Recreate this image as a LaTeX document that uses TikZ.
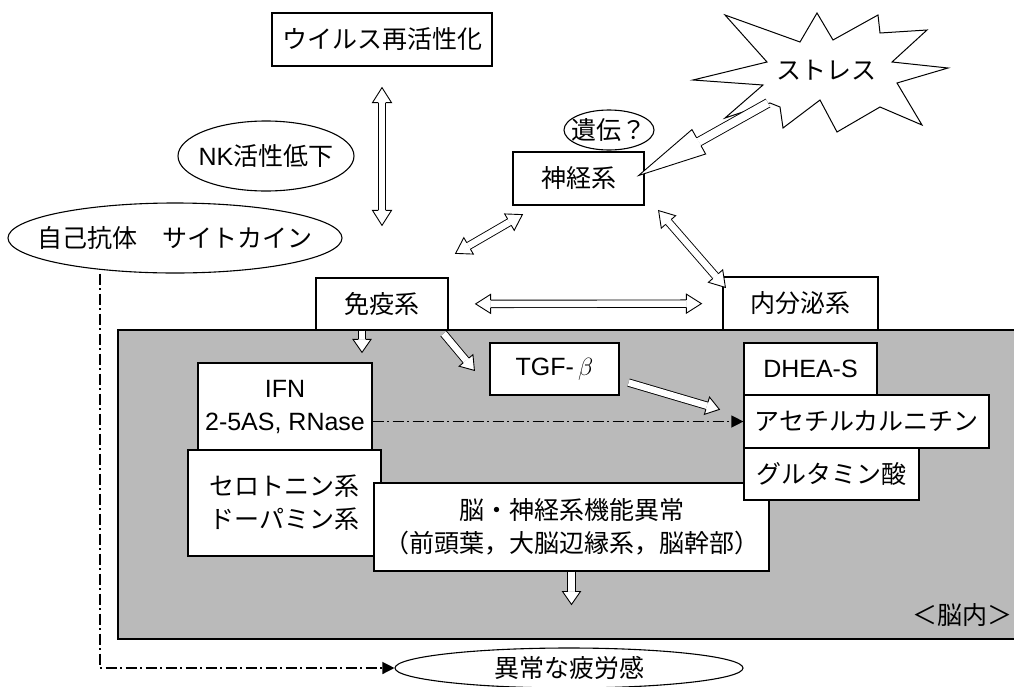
\documentclass[tikz,border=0pt]{standalone}
\usepackage{fontspec}
\setmainfont{Liberation Sans}
\newfontfamily\jp{Noto Sans CJK JP}
\usetikzlibrary{arrows.meta,shapes.geometric,calc}
\pgfdeclarearrow{
  name = Hol,
  parameters = {\the\pgfarrowlength,\the\pgfarrowwidth,\the\pgfarrowinset},
  setup code = {
    \pgfarrowssettipend{0pt}
    \pgfarrowssetlineend{-\pgfarrowlength}
    \pgfarrowssetbackend{-\pgfarrowlength}
    \pgfarrowssavethe\pgfarrowlength
    \pgfarrowssavethe\pgfarrowwidth
    \pgfarrowssavethe\pgfarrowinset
  },
  drawing code = {
    \pgfsetlinewidth{0.9pt}
    \pgfsetmiterjoin
    \pgfpathmoveto{\pgfpoint{-\pgfarrowlength}{0.5\pgfarrowwidth}}
    \pgfpathlineto{\pgfpointorigin}
    \pgfpathlineto{\pgfpoint{-\pgfarrowlength}{-0.5\pgfarrowwidth}}
    \pgfpathclose
    \pgfsetfillcolor{white}
    \pgfusepathqfill
    \pgfpathmoveto{\pgfpoint{-\pgfarrowlength}{\pgfarrowinset}}
    \pgfpathlineto{\pgfpoint{-\pgfarrowlength}{0.5\pgfarrowwidth}}
    \pgfpathlineto{\pgfpointorigin}
    \pgfpathlineto{\pgfpoint{-\pgfarrowlength}{-0.5\pgfarrowwidth}}
    \pgfpathlineto{\pgfpoint{-\pgfarrowlength}{-\pgfarrowinset}}
    \pgfusepathqstroke
  },
  defaults = {length=15pt, width=19pt, inset=3.7pt}
}
\tikzset{
  hollowtip/.tip={Hol[length=15pt,width=19pt,inset=3.7pt]},
  smalltip/.tip={Hol[length=13pt,width=18pt,inset=3.7pt]},
  bigtip/.tip={Hol[length=69pt,width=28pt,inset=4.45pt]},
  ddtip/.tip={Triangle[length=12pt,width=12pt]},
}
\begin{document}
\begin{tikzpicture}[x=1pt,y=-1pt,
  every node/.style={font=\fontsize{25}{33}\selectfont, inner sep=0pt},
  jp/.style={font=\jp\fontsize{25}{33}\selectfont},
  box/.style={draw, fill=white, line width=1.2pt, align=center},
  ell/.style={ellipse, draw, fill=white, line width=1.1pt},
  hol2/.style={double=white, double distance=6.5pt, line width=0.9pt, hollowtip-hollowtip},
  hols/.style={double=white, double distance=6.5pt, line width=0.9pt, -smalltip},
  bigarrow/.style={double=white, double distance=8pt, line width=0.9pt, -bigtip},
  dd/.style={line width=1.3pt, dash pattern=on 11pt off 3.5pt on 2pt off 3.5pt, -ddtip},
]
\useasboundingbox (0,0) rectangle (1014,686);

% brain region
\fill[black!27] (118,330) rectangle (1020,639);
\draw[line width=1.2pt] (1020,330) -- (118,330) -- (118,639) -- (1020,639);
\node[jp, anchor=east] (nainai) at (1013,615) {＜脳内＞};

% top nodes
\node[box, jp, minimum width=220, minimum height=53] (virus) at (382,39.5) {ウイルス再活性化};
\node[box, jp, minimum width=132, minimum height=52] (immune) at (382,304) {免疫系};
\node[box, jp, minimum width=131, minimum height=53] (nerve) at (578.5,178.5) {神経系};
\node[box, jp, minimum width=155, minimum height=53] (endo) at (800.5,303.5) {内分泌系};

\node[ell, minimum width=176, minimum height=70] (nk) at (266,156) {\makebox[0pt]{NK{\jp 活性低下}}};
\node[ell, jp, minimum width=334, minimum height=70] (auto) at (175,238) {\makebox[0pt]{自己抗体　サイトカイン}};
\node[ell, jp, minimum width=90, minimum height=40] (iden) at (609,130) {\makebox[0pt]{遺伝？}};

% stress star
\draw[fill=white, line width=1pt] (725,15) -- (800,42) -- (817,13) -- (833,40) -- (878,15) -- (880,33) -- (927,30) -- (892,62) -- (948,68) -- (897,83) -- (922,125) -- (880,107) -- (837,132) -- (820,100) -- (783,128) -- (780,107) -- (770,103) -- (725,118) -- (763,85) -- (693,80) -- (767,62) -- cycle;
\node[jp] (stress) at (826,70) {ストレス};
\coordinate (stresstail) at (768,103);
\draw[bigarrow] (stresstail) -- ([shift={(-6,-3)}]nerve.east);

% double arrows
\draw[hol2, shorten <=21pt, shorten >=52pt] (virus) -- (immune);
\draw[hol2] ([shift={(7,-24)}]immune.north east) -- ([shift={(10,9)}]nerve.south west);
\draw[hol2] ([shift={(14,5)}]nerve.south east) -- ([shift={(3,11)}]endo.north west);
\draw[hol2, shorten <=27pt, shorten >=21pt] (immune) -- (endo);

% inside brain region
\node[box, minimum width=174, minimum height=87] (ifn) at (285,406.5) {IFN\\2-5AS, RNase};
\node[box, jp, minimum width=193, minimum height=106] (sero) at (284.5,503) {セロトニン系\\ドーパミン系};
\node[box, jp, minimum width=395, minimum height=88] (brain) at (571.5,527) {脳・神経系機能異常\\（前頭葉，大脳辺縁系，脳幹部）};
\node[box, minimum width=129, minimum height=52] (tgf) at (554.5,369) {TGF-\,$\beta$};
\node[box, minimum width=133, minimum height=52] (dhea) at (810.5,369) {DHEA-S};
\node[box, jp, minimum width=245, minimum height=53] (acet) at (866.5,421.5) {アセチルカルニチン};
\node[box, jp, minimum width=175, minimum height=52] (glu) at (831.5,474) {グルタミン酸};

\draw[hols, shorten >=10pt] ([xshift=-20]immune.south) -- ([xshift=-20]immune.south |- ifn.north);
\draw[hols] ([shift={(-5,3)}]immune.south east) -- ([shift={(-15,28)}]tgf.north west);
\draw[hols] ([shift={(9,-13)}]tgf.south east) -- ([shift={(-24,15)}]acet.north west);

\draw[dd] (ifn.east |- acet.west) -- (acet.west);

% bottom
\node[ell, jp, minimum width=348, minimum height=40] (fatigue) at (569,668) {\makebox[0pt]{異常な疲労感}};
\draw[hols, shorten >=43pt] (brain.south) -- (brain.south |- fatigue.north);
\coordinate (bend) at (100,668);
\draw[dd] (auto.south -| bend) -- (bend) -- (fatigue.west);
\end{tikzpicture}
\end{document}
